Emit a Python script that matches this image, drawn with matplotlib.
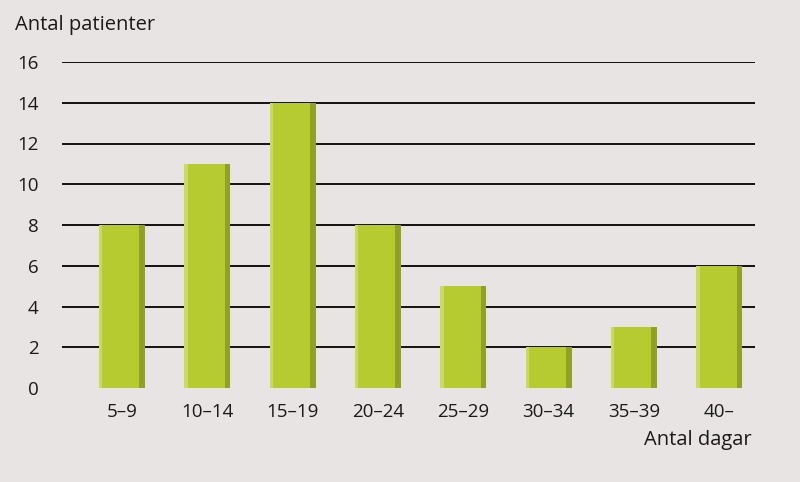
# Histogram: antal patienter per vårdtid (antal dagar)
import matplotlib.pyplot as plt
import numpy as np

categories = ["5–9", "10–14", "15–19", "20–24", "25–29", "30–34", "35–39", "40–"]
patients = [8, 11, 14, 8, 5, 2, 3, 6]
yticks = [0, 2, 4, 6, 8, 10, 12, 14, 16]

bg = "#E8E4E3"
bar_main = "#B6CB2F"
bar_light = "#C8DA62"
bar_dark = "#8FA223"

plt.rcParams["font.family"] = ["Open Sans", "DejaVu Sans"]

fig = plt.figure(figsize=(8, 4.82), dpi=100, facecolor=bg)
ax = fig.add_axes([62 / 800, 1 - 388 / 482, (755 - 62) / 800, (388 - 62) / 482])
ax.set_facecolor(bg)

x = np.arange(len(categories))
w = 0.54
ax.bar(x, patients, width=w, color=bar_main, zorder=3)
ax.bar(x - w / 2, patients, width=0.04, align="edge", color=bar_light, zorder=4)
ax.bar(x + w / 2 - 0.065, patients, width=0.065, align="edge", color=bar_dark, zorder=4)

for t in yticks[1:]:
    ax.axhline(t, color="black", lw=1.3, zorder=1)

ax.set_xlim(-0.703, 7.42)
ax.set_ylim(0, 16)
ax.set_yticks(yticks)
ax.set_xticks(x)
ax.set_xticklabels(categories)
ax.tick_params(axis="both", length=0, labelsize=13.5, colors="#1a1a1a")
ax.tick_params(axis="y", pad=17)
ax.tick_params(axis="x", pad=11)
for s in ax.spines.values():
    s.set_visible(False)

fig.text(15 / 800, 1 - 25 / 482, "Antal patienter", fontsize=14.5, va="center", ha="left", color="#1a1a1a")
fig.text(752 / 800, 1 - 440 / 482, "Antal dagar", fontsize=14.5, va="center", ha="right", color="#1a1a1a")

fig.savefig("out.png", dpi=100, facecolor=bg)
